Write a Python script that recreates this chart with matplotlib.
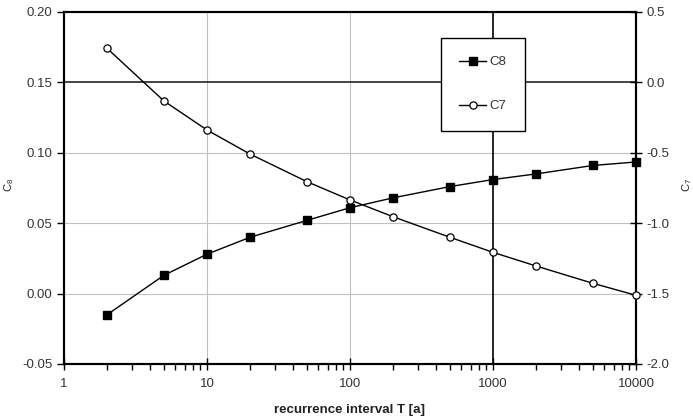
import numpy as np
import matplotlib
matplotlib.use('Agg')
from matplotlib import pyplot as plt
from matplotlib.ticker import FixedLocator, NullFormatter, FuncFormatter

plt.rcParams['font.family'] = ['Liberation Sans', 'DejaVu Sans']
plt.rcParams['mathtext.fontset'] = 'custom'
plt.rcParams['mathtext.rm'] = 'Liberation Sans'
plt.rcParams['mathtext.it'] = 'Liberation Sans'

# recurrence interval T [a]
T = [2, 5, 10, 20, 50, 100, 200, 500, 1000, 2000, 5000, 10000]
# C8 on left axis, C7 on right axis
c8 = [-0.015, 0.013, 0.028, 0.040, 0.052, 0.061, 0.068, 0.076, 0.081, 0.085, 0.091, 0.0935]
c7 = [0.242, -0.132, -0.338, -0.509, -0.705, -0.835, -0.954, -1.100, -1.207, -1.304, -1.427, -1.512]

x_ticks = [1, 10, 100, 1000, 10000]
left_ticks = [-0.05, 0.0, 0.05, 0.10, 0.15, 0.20]
right_ticks = [-2.0, -1.5, -1.0, -0.5, 0.0, 0.5]

fs = 9.5
tick_col = '#333333'

fig = plt.figure(figsize=(6.93, 4.17), dpi=100)
ax = fig.add_axes([64/693, 53/417, 572/693, 352/417])
ax2 = ax.twinx()

ax.set_xscale('log')
ax.set_xlim(1, 10000)
ax.set_ylim(-0.05, 0.20)
ax2.set_ylim(-2.0, 0.5)

# grid lines (light) and the two dark lines
for v in [10, 100]:
    ax.axvline(v, color='#c0c0c0', lw=0.8, zorder=0)
for v in [0.0, 0.05, 0.10]:
    ax.axhline(v, color='#c0c0c0', lw=0.8, zorder=0)
ax.axvline(1000, color='k', lw=1.2, zorder=0)
ax.axhline(0.15, color='#222222', lw=1.2, zorder=0)

ax.plot(T, c8, color='k', lw=1.0, marker='s', ms=5.8, mfc='k', mec='k', label='C8',
        zorder=3, clip_on=False)
ax2.plot(T, c7, color='k', lw=1.0, marker='o', ms=5.2, mfc='white', mec='k', mew=0.9,
         label='C7', zorder=3, clip_on=False)

ax.xaxis.set_major_locator(FixedLocator(x_ticks))
ax.xaxis.set_major_formatter(FuncFormatter(lambda v, p: '%d' % v))
ax.xaxis.set_minor_locator(FixedLocator([m * 10**e for e in range(4) for m in range(2, 10)]))
ax.xaxis.set_minor_formatter(NullFormatter())
ax.tick_params(axis='x', which='major', direction='inout', length=8, width=1, colors='k',
               labelcolor=tick_col, labelsize=fs, pad=6)
ax.tick_params(axis='x', which='minor', direction='out', length=4, width=1, colors='k')

ax.set_yticks(left_ticks)
ax.set_yticklabels(['%.2f' % v for v in left_ticks])
ax.tick_params(axis='y', direction='out', length=5, width=1, colors='k', labelcolor=tick_col, labelsize=fs)
ax2.set_yticks(right_ticks)
ax2.set_yticklabels(['%.1f' % v for v in right_ticks])
ax2.tick_params(axis='y', direction='inout', length=8, width=1, colors='k', labelcolor=tick_col, labelsize=fs)

for a in (ax, ax2):
    for s in a.spines.values():
        s.set_linewidth(1.5)
        s.set_color('k')

ax.set_xlabel('recurrence interval T [a]', fontsize=fs, fontweight='bold', color='#222222', labelpad=10)
ax.set_ylabel('C$_8$', fontsize=8, color='#222222')
ax.yaxis.set_label_coords(-0.084, 0.51)
ax2.set_ylabel('C$_7$', fontsize=8, color='#222222')
ax2.yaxis.set_label_coords(1.078, 0.51)

h1, l1 = ax.get_legend_handles_labels()
h2, l2 = ax2.get_legend_handles_labels()
leg = ax2.legend(h1 + h2, l1 + l2, loc='upper left', bbox_to_anchor=(0.659, 0.927),
                 frameon=True, fancybox=False, edgecolor='k', framealpha=1,
                 fontsize=fs, borderpad=1.4, labelspacing=2.4, handlelength=2.0,
                 handletextpad=0.3, borderaxespad=0)
leg.get_frame().set_linewidth(1.0)
for t in leg.get_texts():
    t.set_color(tick_col)

fig.savefig('out.png', dpi=100)
